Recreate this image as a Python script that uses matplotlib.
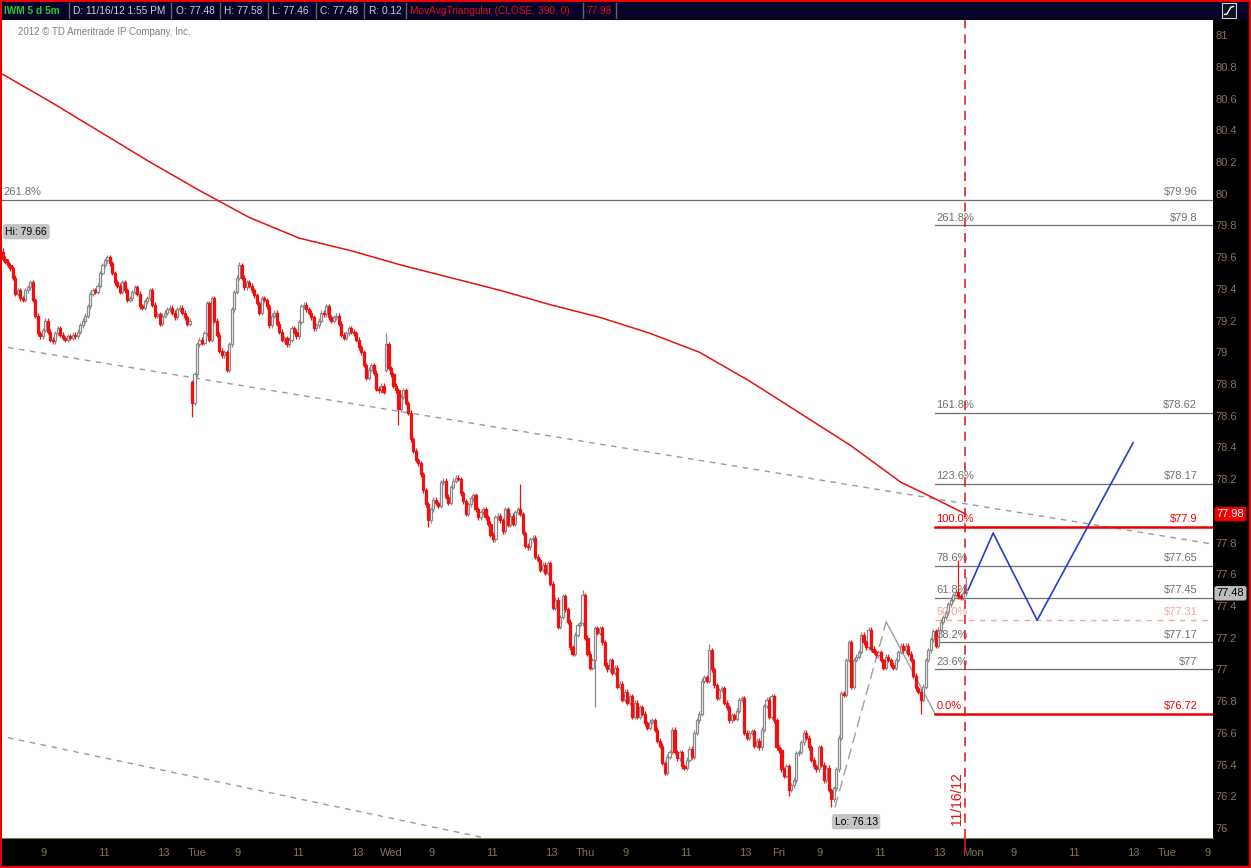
import matplotlib
matplotlib.use('Agg')
import matplotlib.pyplot as plt
import numpy as np
from matplotlib.patches import Rectangle

plt.rcParams['font.family'] = ['Liberation Sans', 'DejaVu Sans']

# ---- data ----
# 5 min closes, 78 bars per session, Mon 11/12 .. Fri 11/16
mon = [79.61, 79.63, 79.59, 79.57, 79.55, 79.53, 79.47, 79.37, 79.39, 79.34,
       79.33, 79.39, 79.41, 79.44, 79.33, 79.23, 79.12, 79.10, 79.14, 79.20,
       79.13, 79.08, 79.07, 79.12, 79.15, 79.11, 79.09, 79.08, 79.10, 79.09,
       79.11, 79.10, 79.13, 79.17, 79.20, 79.23, 79.29, 79.37, 79.39, 79.38,
       79.42, 79.50, 79.55, 79.58, 79.60, 79.56, 79.50, 79.44, 79.42, 79.38,
       79.44, 79.39, 79.33, 79.34, 79.38, 79.41, 79.37, 79.29, 79.28, 79.32,
       79.34, 79.39, 79.30, 79.23, 79.24, 79.18, 79.23, 79.25, 79.27, 79.28,
       79.25, 79.22, 79.27, 79.28, 79.25, 79.22, 79.18, 79.20]
tue = [78.68, 78.86, 79.05, 79.08, 79.06, 79.12, 79.31, 79.08, 79.34, 79.20,
       79.11, 79.01, 78.98, 79.00, 78.89, 79.05, 79.27, 79.38, 79.47, 79.55,
       79.47, 79.41, 79.44, 79.42, 79.39, 79.36, 79.31, 79.25, 79.34, 79.33,
       79.29, 79.17, 79.23, 79.25, 79.18, 79.13, 79.08, 79.09, 79.05, 79.08,
       79.15, 79.13, 79.10, 79.19, 79.29, 79.30, 79.27, 79.25, 79.22, 79.15,
       79.17, 79.20, 79.25, 79.24, 79.29, 79.22, 79.20, 79.22, 79.23, 79.18,
       79.11, 79.09, 79.12, 79.15, 79.13, 79.12, 79.08, 79.03, 79.00, 78.92,
       78.84, 78.89, 78.92, 78.87, 78.77, 78.76, 78.79, 78.75]
wed = [79.05, 78.90, 78.86, 78.79, 78.76, 78.64, 78.72, 78.76, 78.68, 78.62,
       78.45, 78.38, 78.32, 78.30, 78.23, 78.13, 78.04, 77.94, 78.01, 78.07,
       78.05, 78.03, 78.18, 78.19, 78.09, 78.05, 78.15, 78.19, 78.21, 78.20,
       78.11, 78.06, 77.98, 78.04, 78.08, 78.10, 78.01, 77.96, 77.99, 78.01,
       77.96, 77.92, 77.85, 77.82, 77.96, 77.97, 77.94, 77.87, 78.01, 77.91,
       77.97, 77.92, 77.99, 78.01, 77.98, 77.86, 77.78, 77.77, 77.82, 77.83,
       77.71, 77.69, 77.63, 77.66, 77.61, 77.67, 77.54, 77.39, 77.44, 77.27,
       77.33, 77.46, 77.38, 77.30, 77.14, 77.10, 77.22, 77.28]
thu = [77.29, 77.47, 77.20, 77.10, 77.01, 77.06, 77.26, 77.23, 77.26, 77.17,
       77.03, 77.00, 77.06, 76.98, 77.01, 76.89, 76.91, 76.81, 76.86, 76.79,
       76.83, 76.70, 76.79, 76.70, 76.76, 76.72, 76.66, 76.63, 76.67, 76.68,
       76.62, 76.55, 76.52, 76.41, 76.35, 76.45, 76.48, 76.62, 76.48, 76.44,
       76.48, 76.39, 76.38, 76.43, 76.50, 76.45, 76.60, 76.68, 76.72, 76.93,
       76.95, 76.93, 77.12, 77.00, 76.90, 76.82, 76.87, 76.88, 76.79, 76.76,
       76.68, 76.71, 76.69, 76.74, 76.81, 76.82, 76.60, 76.57, 76.60, 76.61,
       76.52, 76.55, 76.51, 76.62, 76.77, 76.81, 76.70, 76.83]
fri = [76.68, 76.51, 76.49, 76.37, 76.33, 76.39, 76.24, 76.27, 76.30, 76.47,
       76.48, 76.54, 76.60, 76.57, 76.51, 76.43, 76.39, 76.37, 76.51, 76.40,
       76.30, 76.38, 76.24, 76.18, 76.25, 76.37, 76.57, 76.85, 76.84, 77.06,
       77.17, 76.89, 77.06, 77.08, 77.11, 77.22, 77.17, 77.14, 77.25, 77.13,
       77.11, 77.09, 77.11, 77.06, 77.01, 77.08, 77.06, 77.03, 77.01, 77.06,
       77.11, 77.15, 77.12, 77.15, 77.10, 77.06, 76.96, 76.88, 76.86, 76.81,
       76.89, 77.06, 77.12, 77.19, 77.24, 77.15, 77.25, 77.30, 77.33, 77.36,
       77.41, 77.44, 77.47, 77.49, 77.46, 77.45, 77.48, 77.48]
closes = mon + tue + wed + thu + fri

# session gap opens and notable wick extremes
gap_opens = {78: 78.81, 156: 78.89}
wick_highs = {2: 79.66, 97: 79.57, 156: 79.12, 210: 78.17, 235: 77.50,
              286: 77.16, 386: 77.69, 389: 77.58}
wick_lows = {78: 78.59, 161: 78.54, 173: 77.90, 240: 76.76, 318: 76.20,
             335: 76.13, 371: 76.72}

# MovAvgTriangular(CLOSE, 390, 0)
ma_bars = [0, 21, 41, 61, 81, 101, 121, 142, 162, 182, 202, 222, 242, 262,
           282, 302, 322, 343, 363, 375, 389]
ma_vals = [80.77, 80.58, 80.39, 80.20, 80.02, 79.85, 79.72, 79.64, 79.55,
           79.47, 79.39, 79.30, 79.22, 79.12, 79.00, 78.82, 78.62, 78.41,
           78.18, 78.09, 77.98]

# fibonacci levels (right side)
fib_pct = ['261.8%', '161.8%', '123.6%', '100.0%', '78.6%', '61.8%', '50.0%',
           '38.2%', '23.6%', '0.0%']
fib_px = [79.8, 78.62, 78.17, 77.9, 77.65, 77.45, 77.31, 77.17, 77.0, 76.72]
fib_start = 376.8
# older fib level spanning the whole chart
old_fib_pct = '261.8%'
old_fib_px = 79.96

# trend lines
upper_trend_x = [4.0, 488.5]
upper_trend_y = [79.03, 77.79]
lower_trend_x = [4.0, 195.0]
lower_trend_y = [76.57, 75.94]
anchor_dash_x = [336.5, 357.1]
anchor_dash_y = [76.13, 77.30]
anchor_line_x = [357.1, 376.8]
anchor_line_y = [77.30, 76.72]

# projected path (blue)
proj_x = [390.0, 400.1, 417.8, 456.4]
proj_y = [77.50, 77.86, 77.31, 78.43]

day_names = ['Tue', 'Wed', 'Thu', 'Fri', 'Mon', 'Tue']
hour_names = ['9', '11', '13']

# ---- figure ----
W, H = 1251, 868
fig = plt.figure(figsize=(W / 100, H / 100), dpi=100)
fig.patch.set_facecolor('white')


def fx(px):
    return px / W


def fy(py):
    return 1 - py / H


# frame pieces
fig.add_artist(Rectangle((0, 0), 1, 1, transform=fig.transFigure,
                         facecolor='#ee0000', edgecolor='none', zorder=0))
fig.add_artist(Rectangle((fx(2), fy(866)), fx(1247), fy(2) - fy(866),
                         transform=fig.transFigure, facecolor='black',
                         edgecolor='none', zorder=0))
fig.add_artist(Rectangle((fx(2), fy(19)), fx(1247), fy(2) - fy(19),
                         transform=fig.transFigure, facecolor='#03032e',
                         edgecolor='none', zorder=1))

ax = fig.add_axes([fx(2), fy(838), fx(1211), fy(20) - fy(838)])
ax.set_facecolor('white')

n = len(closes)
bars = np.arange(n)
c = np.array(closes)
o = np.concatenate([[c[0]], c[:-1]])
for k, v in gap_opens.items():
    o[k] = v
wick = 0.015
hi = np.maximum(o, c) + wick
lo = np.minimum(o, c) - wick
for k, v in wick_highs.items():
    hi[k] = v
for k, v in wick_lows.items():
    lo[k] = v

up = c >= o
red = '#ee1111'
grey = '#8a8a8a'
cols = np.where(up, grey, red)
ax.vlines(bars, lo, hi, colors=cols, linewidth=0.9, zorder=3)
body = np.maximum(np.abs(c - o), 0.006)
ax.bar(bars[up], body[up], bottom=np.minimum(o, c)[up], width=0.85,
       facecolor='white', edgecolor=grey, linewidth=0.9, zorder=4)
ax.bar(bars[~up], body[~up], bottom=np.minimum(o, c)[~up], width=0.85,
       facecolor=red, edgecolor=red, linewidth=0.9, zorder=4)

# moving average
ax.plot(ma_bars, ma_vals, color='#e81010', linewidth=1.1, zorder=5)

# trend lines
ax.plot(upper_trend_x, upper_trend_y, color='#9a9a9a', linewidth=1.0,
        dashes=(4, 4), zorder=2)
ax.plot(lower_trend_x, lower_trend_y, color='#9a9a9a', linewidth=1.0,
        dashes=(4, 4), zorder=2)
ax.plot(anchor_dash_x, anchor_dash_y, color='#a0a0a0', linewidth=1.0,
        dashes=(8, 4), zorder=2)
ax.plot(anchor_line_x, anchor_line_y, color='#a0a0a0', linewidth=1.0, zorder=2)

# fib levels
x_right = 488.5
lab_right = 482.2
for pct, px in zip(fib_pct, fib_px):
    if pct in ('100.0%', '0.0%'):
        col, lw, ls, tcol = '#ee0000', 1.8, '-', '#ee0000'
    elif pct == '50.0%':
        col, lw, ls, tcol = '#f4a6a6', 1.0, (0, (4, 4)), '#f4a6a6'
    else:
        col, lw, ls, tcol = '#707070', 0.9, '-', '#707070'
    ax.plot([fib_start, x_right], [px, px], color=col, linewidth=lw,
            linestyle=ls, zorder=2)
    ax.text(fib_start + 0.5, px + 0.018, pct, color=tcol, fontsize=8,
            ha='left', va='bottom', zorder=6)
    ax.text(lab_right, px + 0.018, '$%g' % px, color=tcol, fontsize=8,
            ha='right', va='bottom', zorder=6)

ax.plot([0, x_right], [old_fib_px, old_fib_px], color='#707070',
        linewidth=0.9, zorder=2)
ax.text(2.1, old_fib_px + 0.018, old_fib_pct, color='#707070', fontsize=8,
        ha='left', va='bottom')
ax.text(lab_right, old_fib_px + 0.018, '$%g' % old_fib_px, color='#707070',
        fontsize=8, ha='right', va='bottom')

# projection
ax.plot(proj_x, proj_y, color='#2a3cc8', linewidth=1.2, zorder=6)

# current time marker
ax.axvline(388.7, color='#e01010', linewidth=1.1, dashes=(6, 4), zorder=6)
ax.text(385.6, 76.02, '11/16/12', color='#e01010', fontsize=10, rotation=90,
        ha='center', va='bottom', zorder=7)

# hi / lo bubbles
ax.text(3.0, 79.76, 'Hi: 79.66', fontsize=7.5, color='black', ha='left',
        va='center', zorder=8,
        bbox=dict(boxstyle='round,pad=0.25', fc='#c4c4c4', ec='none'))
ax.text(345, 76.04, 'Lo: 76.13', fontsize=7.5, color='black', ha='center',
        va='center', zorder=8,
        bbox=dict(boxstyle='round,pad=0.25', fc='#c4c4c4', ec='none'))

# axes setup
for s in ax.spines.values():
    s.set_visible(False)
ax.spines['bottom'].set_visible(True)
ax.spines['bottom'].set_color('#8b7355')

ax.yaxis.tick_right()
yt = np.round(np.arange(76.0, 81.01, 0.2), 1)
ax.set_yticks(yt)
# the 78 label sits under the moving-average value box
ax.set_yticklabels(['' if v == 78.0 else '%g' % v for v in yt])
ax.tick_params(axis='y', length=0, pad=2, labelsize=8, labelcolor='#8b7355')

xt, xl = [], []
for d in range(7):
    if d > 0:
        xt.append(d * 78 + 2)
        xl.append(day_names[d - 1])
    for hh, name in zip([18.5, 42.5, 66.5], hour_names):
        xt.append(d * 78 + hh)
        xl.append(name)
keep = [i for i, t in enumerate(xt) if t < x_right]
ax.set_xticks([xt[i] for i in keep])
ax.set_xticklabels([xl[i] for i in keep])
ax.tick_params(axis='x', length=0, pad=7, labelsize=8, labelcolor='#8b7355')

ax.set_xlim(1.6, x_right)
ax.set_ylim(75.937, 81.095)

# last value boxes on price axis
ytr = ax.get_yaxis_transform()
ax.text(1.003, ma_vals[-1], '%.2f' % ma_vals[-1], transform=ytr, fontsize=8,
        color='white', ha='left', va='center', zorder=9, clip_on=False,
        bbox=dict(boxstyle='round,pad=0.2', fc='#ee0000', ec='none'))
ax.text(1.003, closes[-1], '%.2f' % closes[-1], transform=ytr, fontsize=8,
        color='black', ha='left', va='center', zorder=9, clip_on=False,
        bbox=dict(boxstyle='round,pad=0.2', fc='#bdbdbd', ec='none'))
ax.plot([388.7, 388.7], [75.85, 75.937], color='#e01010', linewidth=1.2,
        clip_on=False)

# copyright
fig.text(fx(18), fy(32), '2012 \u00a9 TD Ameritrade IP Company, Inc.',
         fontsize=7, color='#808080', va='center')

# header
head = [('IWM 5 d 5m', '#22cc22', 4), ('D: 11/16/12 1:55 PM', '#d0d0d0', 73),
        ('O: 77.48', '#d0d0d0', 176), ('H: 77.58', '#d0d0d0', 224),
        ('L: 77.46', '#d0d0d0', 272), ('C: 77.48', '#d0d0d0', 320),
        ('R: 0.12', '#d0d0d0', 369),
        ('MovAvgTriangular (CLOSE, 390, 0)', '#e01010', 410),
        ('77.98', '#e01010', 587)]
for txt, col, x0 in head:
    fig.text(fx(x0), fy(10.5), txt, color=col, fontsize=7.3, va='center',
             weight='bold' if txt.startswith('IWM') else 'normal', zorder=3)
for xd in [69, 171, 220, 268, 316, 364, 406, 583, 616]:
    fig.add_artist(plt.Line2D([fx(xd), fx(xd)], [fy(3), fy(18)],
                              transform=fig.transFigure, color='#6e6450',
                              linewidth=1, zorder=3))
fig.add_artist(Rectangle((fx(1222), fy(18)), fx(14), fy(3) - fy(18),
                         transform=fig.transFigure, facecolor='#101020',
                         edgecolor='#d0d0d0', linewidth=0.8, zorder=3))
# small curve glyph inside the settings icon
icon_x = [1224.5, 1227, 1229, 1231, 1233.5]
icon_y = [14.5, 14, 10.5, 7, 6.5]
fig.add_artist(plt.Line2D([fx(v) for v in icon_x], [fy(v) for v in icon_y],
                          transform=fig.transFigure, color='white',
                          linewidth=1, zorder=4))

fig.savefig('out.png', dpi=100)
